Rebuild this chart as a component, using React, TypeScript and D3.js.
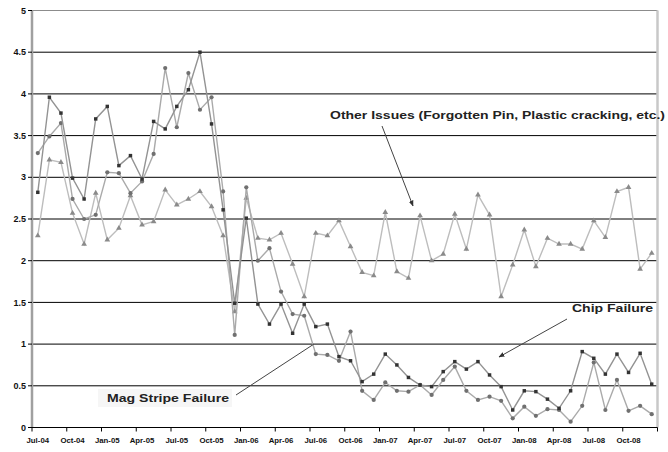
import React from "react";
import * as d3 from "d3";

const months = [
  "Jul-04","Aug-04","Sep-04","Oct-04","Nov-04","Dec-04",
  "Jan-05","Feb-05","Mar-05","Apr-05","May-05","Jun-05","Jul-05","Aug-05","Sep-05","Oct-05","Nov-05","Dec-05",
  "Jan-06","Feb-06","Mar-06","Apr-06","May-06","Jun-06","Jul-06","Aug-06","Sep-06","Oct-06","Nov-06","Dec-06",
  "Jan-07","Feb-07","Mar-07","Apr-07","May-07","Jun-07","Jul-07","Aug-07","Sep-07","Oct-07","Nov-07","Dec-07",
  "Jan-08","Feb-08","Mar-08","Apr-08","May-08","Jun-08","Jul-08","Aug-08","Sep-08","Oct-08","Nov-08","Dec-08",
];

const otherIssues = [
  2.30, 3.21, 3.18, 2.57, 2.20, 2.81, 2.25, 2.39, 2.78, 2.43, 2.47, 2.85, 2.67, 2.74, 2.83, 2.65, 2.30, 1.39,
  2.75, 2.27, 2.25, 2.33, 1.96, 1.57, 2.33, 2.30, 2.48, 2.17, 1.86, 1.82, 2.58, 1.87, 1.79, 2.54, 2.00, 2.08,
  2.56, 2.14, 2.79, 2.55, 1.57, 1.95, 2.37, 1.93, 2.27, 2.20, 2.20, 2.14, 2.48, 2.28, 2.83, 2.88, 1.90, 2.09,
];

const chipFailure = [
  2.82, 3.96, 3.77, 2.99, 2.74, 3.70, 3.85, 3.14, 3.26, 2.98, 3.67, 3.58, 3.85, 4.05, 4.50, 3.64, 2.61, 1.49,
  2.51, 1.48, 1.24, 1.48, 1.13, 1.48, 1.21, 1.24, 0.85, 0.80, 0.55, 0.64, 0.88, 0.75, 0.60, 0.51, 0.49, 0.67,
  0.79, 0.70, 0.79, 0.63, 0.49, 0.21, 0.44, 0.43, 0.34, 0.23, 0.44, 0.91, 0.83, 0.64, 0.88, 0.66, 0.89, 0.52,
];

const magStripeFailure = [
  3.29, 3.49, 3.65, 2.74, 2.50, 2.55, 3.06, 3.05, 2.81, 2.95, 3.28, 4.31, 3.60, 4.25, 3.81, 3.96, 2.83, 1.11,
  2.88, 2.00, 2.15, 1.63, 1.36, 1.34, 0.88, 0.87, 0.80, 1.15, 0.44, 0.33, 0.54, 0.44, 0.43, 0.51, 0.39, 0.57,
  0.73, 0.44, 0.33, 0.37, 0.32, 0.11, 0.25, 0.14, 0.22, 0.21, 0.07, 0.26, 0.78, 0.21, 0.57, 0.20, 0.26, 0.16,
];

const xTickLabels = [
  "Jul-04","Oct-04","Jan-05","Apr-05","Jul-05","Oct-05","Jan-06","Apr-06","Jul-06",
  "Oct-06","Jan-07","Apr-07","Jul-07","Oct-07","Jan-08","Apr-08","Jul-08","Oct-08",
];

const yTicks = [0, 0.5, 1, 1.5, 2, 2.5, 3, 3.5, 4, 4.5, 5];
const yTickLabels = ["0", "0.5", "1", "1.5", "2", "2.5", "3", "3.5", "4", "4.5", "5"];

const FONT = "'Liberation Sans', Arial, sans-serif";

export default function App() {
  const W = 668, H = 452;
  const left = 32, right = 657.5, top = 10.5, bottom = 427.5;

  const x = d3.scaleBand<number>().domain(months.map((_, i) => i)).range([left, right]).padding(0);
  const cx = (i: number) => (x(i) as number) + x.bandwidth() / 2;
  const y = d3.scaleLinear().domain([0, 5]).range([bottom, top]);

  const line = d3.line<number>().x((_, i) => cx(i)).y((d) => y(d));

  const tri = d3.symbol().type(d3.symbolTriangle).size(14)() as string;
  const sq = d3.symbol().type(d3.symbolSquare).size(12)() as string;
  const circ = d3.symbol().type(d3.symbolCircle).size(14)() as string;

  const tickIdx = d3.range(0, months.length + 1, 3);

  return (
    <svg width={W} height={H} style={{ position: "absolute", left: 0, top: 0, background: "#fff" }}
      xmlns="http://www.w3.org/2000/svg">
      <defs>
        <marker id="arr" viewBox="0 0 10 10" refX="9" refY="5" markerWidth="6" markerHeight="6" orient="auto">
          <path d="M0,1 L10,5 L0,9 z" fill="#333" />
        </marker>
      </defs>
      <rect x={0} y={0} width={W} height={H} fill="#fff" />

      {/* gridlines */}
      {yTicks.filter((t) => t > 0 && t < 5).map((t) => (
        <line key={t} x1={left} x2={right} y1={y(t)} y2={y(t)} stroke="#000" strokeWidth={1} />
      ))}
      <line x1={left} x2={right} y1={y(5)} y2={y(5)} stroke="#8c8c8c" strokeWidth={1} />
      <line x1={right} x2={right} y1={top} y2={bottom} stroke="#c8c8c8" strokeWidth={2.5} />

      {/* series */}
      <path d={line(otherIssues) as string} fill="none" stroke="#bdbdbd" strokeWidth={1.4} />
      {otherIssues.map((v, i) => (
        <path key={"o" + i} d={tri} transform={`translate(${cx(i)},${y(v)})`} fill="#8a8a8a" />
      ))}
      <path d={line(magStripeFailure) as string} fill="none" stroke="#aaaaaa" strokeWidth={1.4} />
      {magStripeFailure.map((v, i) => (
        <path key={"m" + i} d={circ} transform={`translate(${cx(i)},${y(v)})`} fill="#707070" />
      ))}
      <path d={line(chipFailure) as string} fill="none" stroke="#939393" strokeWidth={1.4} />
      {chipFailure.map((v, i) => (
        <path key={"c" + i} d={sq} transform={`translate(${cx(i)},${y(v)})`} fill="#333" />
      ))}

      {/* y axis */}
      <line x1={left} x2={left} y1={top} y2={bottom} stroke="#a0a0a0" strokeWidth={2.5} />
      {yTicks.map((t, k) => (
        <g key={"yt" + t}>
          <line x1={left - 4} x2={left} y1={y(t)} y2={y(t)} stroke="#000" strokeWidth={1} />
          <text x={left - 6} y={y(t)} dy="0.35em" textAnchor="end" fontFamily={FONT} fontWeight="bold"
            fontSize={9} fill="#111">{yTickLabels[k]}</text>
        </g>
      ))}

      {/* x axis */}
      <line x1={left} x2={right} y1={bottom} y2={bottom} stroke="#000" strokeWidth={1.2} />
      {tickIdx.map((i) => {
        const xp = i < months.length ? (x(i) as number) : right;
        return <line key={"xt" + i} x1={xp} x2={xp} y1={bottom} y2={bottom + 4} stroke="#000" strokeWidth={1} />;
      })}
      {xTickLabels.map((lab, k) => (
        <text key={lab} x={cx(k * 3)} y={443} textAnchor="middle" fontFamily={FONT} fontWeight="bold"
          fontSize={7.8} fill="#111">{lab}</text>
      ))}

      {/* annotations */}
      <line x1={382} x2={413} y1={126} y2={206} stroke="#444" strokeWidth={1} markerEnd="url(#arr)" />
      <text x={330} y={119} fontFamily={FONT} fontWeight="bold" fontSize={10.5} fill="#222"
        textLength={335} lengthAdjust="spacingAndGlyphs">Other Issues (Forgotten Pin, Plastic cracking, etc.)</text>

      <line x1={567} x2={499} y1={319} y2={357} stroke="#444" strokeWidth={1} markerEnd="url(#arr)" />
      <text x={572} y={312} fontFamily={FONT} fontWeight="bold" fontSize={10.5} fill="#222"
        textLength={81} lengthAdjust="spacingAndGlyphs">Chip Failure</text>

      <rect x={98} y={389} width={134} height={18} fill="#f6f6f6" />
      <line x1={236} x2={314} y1={395} y2={344} stroke="#444" strokeWidth={1} />
      <text x={107} y={402} fontFamily={FONT} fontWeight="bold" fontSize={10.5} fill="#222"
        textLength={122} lengthAdjust="spacingAndGlyphs">Mag Stripe Failure</text>
    </svg>
  );
}
